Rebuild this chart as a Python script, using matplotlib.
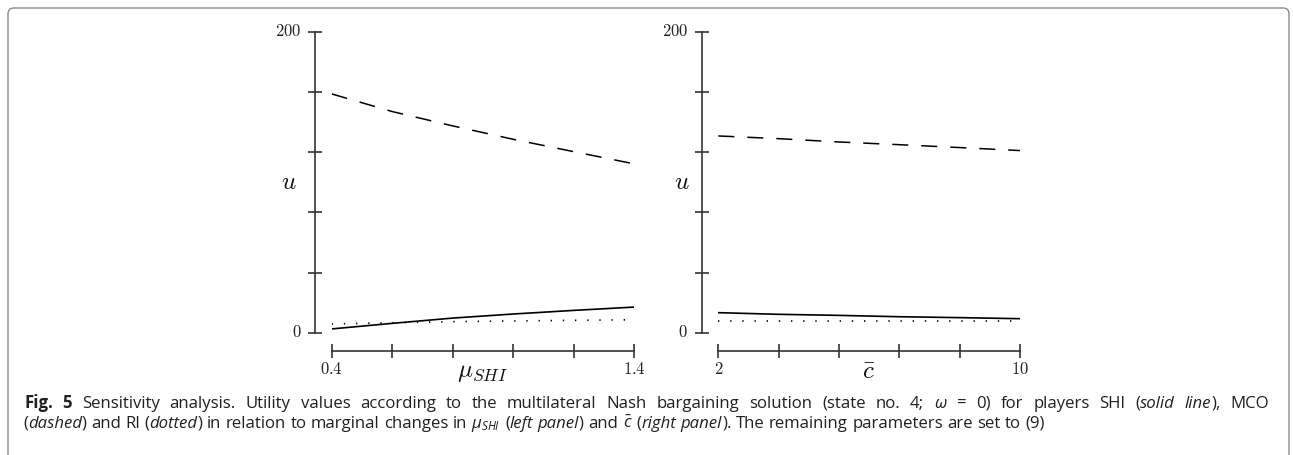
import matplotlib
matplotlib.use("Agg")
import matplotlib.pyplot as plt
from matplotlib.patches import FancyBboxPatch
from matplotlib.transforms import IdentityTransform, offset_copy

# ---------------- data ----------------
mu_shi = [0.4, 0.6, 0.8, 1.0, 1.2, 1.4]
left_mco = [158.7, 147.0, 137.5, 128.6, 120.4, 112.3]
left_shi = [2.7, 6.4, 9.9, 12.6, 15.0, 17.2]
left_ri = [6.0, 6.8, 7.5, 8.0, 8.4, 8.8]

c_bar = [2, 3.6, 5.2, 6.8, 8.4, 10]
right_mco = [130.8, 129.0, 126.8, 125.0, 123.1, 121.1]
right_shi = [13.5, 12.4, 11.7, 10.8, 10.2, 9.5]
right_ri = [8.0, 8.0, 8.0, 8.0, 8.0, 8.0]

y_ticks = [0, 40, 80, 120, 160, 200]
y_ticklabels = ["0", "", "", "", "", "200"]
left_xlabels = ["0.4", "1.4"]
right_xlabels = ["2", "10"]

# ---------------- style ----------------
plt.rcParams["font.family"] = ["Open Sans", "DejaVu Sans"]
plt.rcParams["mathtext.fontset"] = "custom"
plt.rcParams["mathtext.rm"] = "Open Sans"
plt.rcParams["mathtext.it"] = "Open Sans:italic"
plt.rcParams["mathtext.bf"] = "Open Sans:bold"

W, H = 1293, 455
fig = plt.figure(figsize=(W / 100, H / 100), dpi=100)
axcol = "#333333"


def px_axes(x0, x1, ytop, ybot):
    return fig.add_axes([x0 / W, 1 - ybot / H, (x1 - x0) / W, (ybot - ytop) / H])


def style(ax, xs, xlim, ylabel_dx, xlabel_txt, xlabels, xlabel_pos):
    ax.set_xlim(*xlim)
    ax.set_ylim(0, 200)
    for s in ["top", "right"]:
        ax.spines[s].set_visible(False)
    ax.spines["left"].set_position(("outward", 12))
    ax.spines["bottom"].set_position(("outward", 13))
    for s in ["left", "bottom"]:
        ax.spines[s].set_color(axcol)
        ax.spines[s].set_linewidth(1.2)
    ax.set_yticks(y_ticks)
    ax.set_yticklabels([])
    ax.set_xticks(xs)
    ax.set_xticklabels([])
    ax.tick_params(axis="both", direction="inout", length=9.5, width=1.2, color=axcol)
    ax.patch.set_visible(False)
    tr_ytick = offset_copy(ax.get_yaxis_transform(), fig=fig, x=-30.5, y=0, units="dots")
    for v, lab in zip(y_ticks, y_ticklabels):
        if lab:
            ax.text(0, v, "$%s$" % lab, transform=tr_ytick, ha="right", va="center",
                    fontsize=12, math_fontfamily="cm", color="#222222")
    tr_ylab = offset_copy(ax.get_yaxis_transform(), fig=fig, x=ylabel_dx, y=0, units="dots")
    ax.text(0, 100, "$u$", transform=tr_ylab, ha="center", va="center",
            fontsize=18, math_fontfamily="cm", color="#111111")
    tr_x = offset_copy(ax.get_xaxis_transform(), fig=fig, x=0, y=-37, units="dots")
    for v, lab in zip(xlabel_pos, xlabels):
        ax.text(v, 0, "$%s$" % lab, transform=tr_x, ha="center", va="center",
                fontsize=12, math_fontfamily="cm", color="#222222")
    tr_xl = offset_copy(ax.transAxes, fig=fig, x=0, y=-39, units="dots")
    ax.text(0.5, 0, xlabel_txt, transform=tr_xl, ha="center", va="center",
            fontsize=18, math_fontfamily="cm", color="#111111")


ax1 = px_axes(331.7, 634, 31.7, 333)
ax1.plot(mu_shi, left_mco, color="black", lw=1.1, dashes=(10.5, 8.5))
ax1.plot(mu_shi, left_shi, color="black", lw=1.2)
ax1.plot(mu_shi, left_ri, color="black", lw=1.2, linestyle=(0, (0.8, 6.5)))
style(ax1, mu_shi, (0.4, 1.4), -43, r"$\mu_{SHI}$", left_xlabels, [0.4, 1.4])

ax2 = px_axes(718.3, 1020, 31.7, 333)
ax2.plot(c_bar, right_mco, color="black", lw=1.1, dashes=(10.5, 8.5))
ax2.plot(c_bar, right_shi, color="black", lw=1.2)
ax2.plot(c_bar, right_ri, color="black", lw=1.2, linestyle=(0, (0.8, 6.5)))
style(ax2, c_bar, (2, 10), -36, r"$\bar{c}$", right_xlabels, [2, 10])

# ---------------- border ----------------
border = FancyBboxPatch((8, -20), 1281, 467, boxstyle="round,pad=0,rounding_size=6",
                        transform=IdentityTransform(), facecolor="none",
                        edgecolor="#8a8a8a", lw=1.0)
fig.patches.append(border)

# ---------------- caption ----------------
ccol = "#231f20"
fs = 12.1
line1 = [
    ("Fig. 5", dict(fontweight="bold")),
    (" Sensitivity analysis. Utility values according to the multilateral Nash bargaining solution (state no. 4; ", {}),
    (r"$\omega$", dict(fontstyle="italic")),
    (" = 0) for players SHI (", {}),
    ("solid line", dict(fontstyle="italic")),
    ("), MCO", {}),
]
line2 = [
    ("(", {}),
    ("dashed", dict(fontstyle="italic")),
    (") and RI (", {}),
    ("dotted", dict(fontstyle="italic")),
    (") in relation to marginal changes in ", {}),
    (r"$\mu_{SHI}$", {}),
    (" (", {}),
    ("left panel", dict(fontstyle="italic")),
    (") and ", {}),
    (r"$\bar{c}$", {}),
    (" (", {}),
    ("right panel", dict(fontstyle="italic")),
    ("). The remaining parameters are set to (9)", {}),
]

renderer = fig.canvas.get_renderer()


def text_width(txt, props):
    t = fig.text(0, 0, txt, fontsize=fs, **props)
    w = t.get_window_extent(renderer).width
    t.remove()
    return w


space_w = text_width("a a", {}) - text_width("aa", {})


def tokens(runs):
    # list of (word, props, space_before)
    out = []
    pending_space = False
    for txt, props in runs:
        parts = txt.split(" ")
        for i, p in enumerate(parts):
            if i > 0:
                pending_space = True
            if p == "":
                continue
            out.append((p, props, pending_space and len(out) > 0))
            pending_space = False
    return out


def draw_line(runs, x0, ybase, target=None):
    toks = tokens(runs)
    widths = [text_width(w, p) for w, p, _ in toks]
    nsp = sum(1 for _, _, s in toks if s)
    natural = sum(widths) + nsp * space_w
    gap = space_w
    if target is not None and nsp > 0:
        gap = space_w + (target - natural) / nsp
    x = x0
    for (w, p, s), wd in zip(toks, widths):
        if s:
            x += gap
        fig.text(x, H - ybase, w, fontsize=fs, color=ccol, va="baseline", ha="left",
                 transform=IdentityTransform(), **p)
        x += wd


draw_line(line1, 24, 408, target=1269 - 24)
draw_line(line2, 23, 428)

fig.savefig("out.png", dpi=100)
